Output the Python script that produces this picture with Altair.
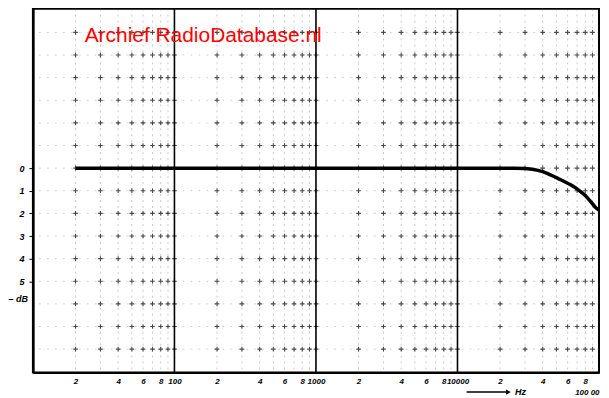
import altair as alt
import pandas as pd

# Frequency response (Hz, -dB)
freq = [20, 100, 1000, 10000, 25000, 30000, 37000, 43000, 49000, 56000, 63500, 71000, 79600, 88000, 95300, 100000]
db   = [0.0, 0.0, 0.0, 0.0, 0.0, 0.02, 0.1, 0.23, 0.4, 0.57, 0.75, 0.95, 1.2, 1.5, 1.76, 1.85]

x_label_vals = [20, 40, 60, 80, 100, 200, 400, 600, 800, 1000, 2000, 4000, 6000, 8000,
                10000, 20000, 40000, 60000, 80000, 100000]
y_label_vals = [0, 1, 2, 3, 4, 5]
decade_lines = [100, 1000, 10000]
minor_lines = [m * 10 ** d for d in (1, 2, 3, 4) for m in range(2, 10)]
row_lines = list(range(-6, 9))

watermark = "Archief RadioDatabase.nl"

curve_df = pd.DataFrame({"f": freq, "db": db})
rows_df = pd.DataFrame({"db": row_lines})
minor_df = pd.DataFrame({"f": minor_lines})
dec_df = pd.DataFrame({"f": decade_lines})
cross_df = pd.DataFrame([{"f": f, "db": r} for f in minor_lines + decade_lines for r in row_lines])
wm_df = pd.DataFrame({"f": [23.2], "db": [-5.86], "t": [watermark]})
arrow_df = pd.DataFrame({"f": [11600], "f2": [22000], "db": [9.9]})
head_df = pd.DataFrame({"f": [22900], "db": [9.9]})
hz_df = pd.DataFrame({"f": [25500], "db": [9.9], "t": ["Hz"]})
ydb_df = pd.DataFrame({"db": [5.8], "t": ["\u2013 dB"]})

xscale = alt.Scale(type="log", domain=[10, 100000], nice=False)
yscale = alt.Scale(domain=[-7.05, 9.03], reverse=True, nice=False, zero=False)

LBL = dict(font="Liberation Sans", fontSize=9, fontStyle="italic", fontWeight="bold", color="black")

x_axis = alt.Axis(
    values=x_label_vals,
    labelExpr=("datum.value == 100000 ? ['', '100 00'] : "
               "(datum.value == 100 || datum.value == 1000 || datum.value == 10000) ? format(datum.value, 'd') : "
               "format(round(datum.value / pow(10, floor(log(datum.value) / LN10 + 1e-9))), 'd')"),
    grid=False, ticks=False, title=None, labelFlush=True, labelOverlap=False,
    domainColor="black", domainWidth=2,
    labelFont="Liberation Sans", labelFontSize=8, labelFontStyle="italic",
    labelFontWeight="bold", labelColor="black", labelPadding=5, labelLineHeight=11,
)
y_axis = alt.Axis(
    values=y_label_vals, format="d",
    grid=False, ticks=True, tickSize=4, tickColor="black", tickOffset=0, title=None,
    domainColor="black", domainWidth=2.5,
    labelFont="Liberation Sans", labelFontSize=9, labelFontStyle="italic",
    labelFontWeight="bold", labelColor="black", labelPadding=5,
)

hgrid = alt.Chart(rows_df).mark_rule(color="#555", strokeWidth=0.8, strokeDash=[2, 6], opacity=0.35).encode(
    y=alt.Y("db:Q", scale=yscale, axis=y_axis)
)
vminor = alt.Chart(minor_df).mark_rule(color="#555", strokeWidth=0.8, strokeDash=[2, 4], opacity=0.4).encode(
    x=alt.X("f:Q", scale=xscale, axis=x_axis)
)
crosses = alt.Chart(cross_df).mark_point(shape="M-1,0H1M0,-1V1", size=22, strokeWidth=1.1,
                                         color="#222", filled=False, opacity=0.8).encode(
    x=alt.X("f:Q", scale=xscale), y=alt.Y("db:Q", scale=yscale)
)
vdec = alt.Chart(dec_df).mark_rule(color="black", strokeWidth=1.6).encode(
    x=alt.X("f:Q", scale=xscale)
)
curve = alt.Chart(curve_df).mark_line(color="black", strokeWidth=3.5, interpolate="monotone").encode(
    x=alt.X("f:Q", scale=xscale),
    y=alt.Y("db:Q", scale=yscale),
)
wm = alt.Chart(wm_df).mark_text(color="#ff0000", font="Liberation Sans", fontSize=21,
                                align="left", baseline="middle").encode(
    x=alt.X("f:Q", scale=xscale), y=alt.Y("db:Q", scale=yscale), text="t:N"
)
arrow = alt.Chart(arrow_df).mark_rule(color="black", strokeWidth=1.5).encode(
    x=alt.X("f:Q", scale=xscale), x2="f2:Q", y=alt.Y("db:Q", scale=yscale)
)
head = alt.Chart(head_df).mark_point(shape="triangle-right", filled=True, color="black", size=30, opacity=1).encode(
    x=alt.X("f:Q", scale=xscale), y=alt.Y("db:Q", scale=yscale)
)
hz = alt.Chart(hz_df).mark_text(align="left", baseline="middle", **LBL).encode(
    x=alt.X("f:Q", scale=xscale), y=alt.Y("db:Q", scale=yscale), text="t:N"
)
ydb = alt.Chart(ydb_df).mark_text(align="right", baseline="middle", **LBL).encode(
    x=alt.value(-5), y=alt.Y("db:Q", scale=yscale), text="t:N"
)

chart = alt.layer(hgrid, vminor, crosses, vdec, curve, wm, arrow, head, hz, ydb).properties(
    width=568, height=365,
    autosize=alt.AutoSizeParams(type="none"),
    padding={"left": 25, "top": 0, "right": 2, "bottom": 24},
    background="white",
).configure_view(stroke="black", strokeWidth=2)

chart.save("out.html", embed_options={"renderer": "svg", "actions": False})
